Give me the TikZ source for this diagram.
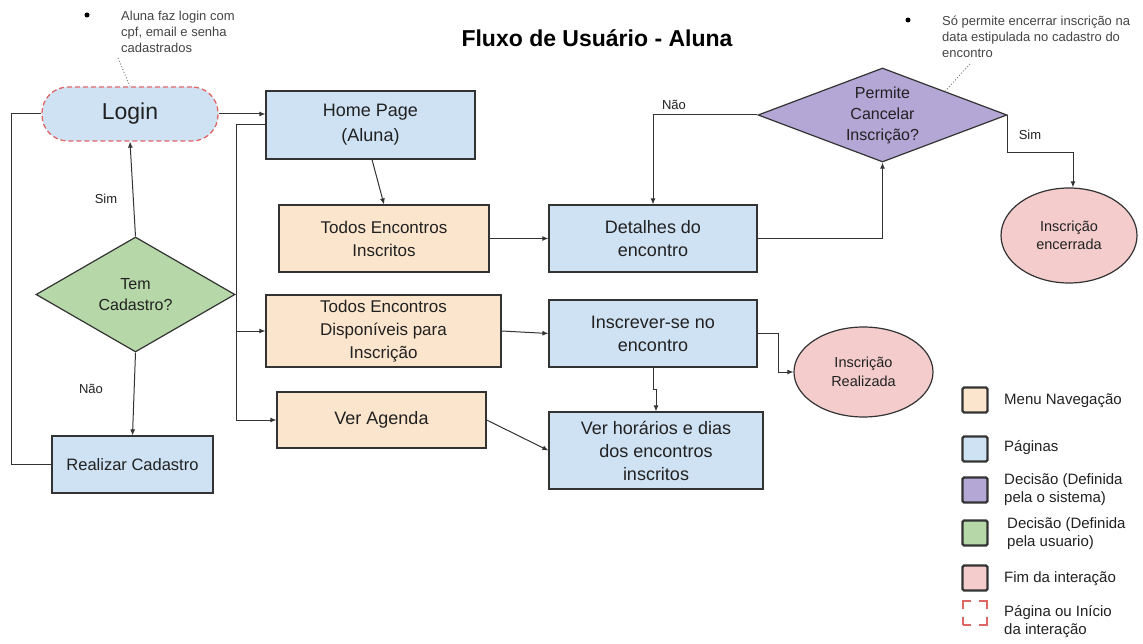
\documentclass[tikz,border=0pt]{standalone}
\usepackage{fontspec}
\setmainfont{Liberation Sans}
\usetikzlibrary{shapes.geometric,arrows.meta,calc}
\definecolor{menuc}{HTML}{FCE5CD}
\definecolor{pagec}{HTML}{CFE2F3}
\definecolor{purpc}{HTML}{B4A7D6}
\definecolor{greenc}{HTML}{B6D7A8}
\definecolor{endc}{HTML}{F4CCCC}
\definecolor{redc}{HTML}{E06666}
\definecolor{linec}{HTML}{333333}
\definecolor{txtc}{HTML}{212121}
\definecolor{notec}{HTML}{444444}
\begin{document}
\begin{tikzpicture}[x=1pt,y=-1pt,
  base/.style={draw=linec, line width=1.2pt, text=txtc, inner sep=0pt, align=center},
  menubox/.style={base, fill=menuc, rectangle, font=\fontsize{17}{23}\selectfont},
  pagebox/.style={base, fill=pagec, rectangle, font=\fontsize{17.5}{23}\selectfont},
  endnode/.style={base, fill=endc, ellipse, font=\fontsize{14.5}{18.5}\selectfont},
  decision/.style={base, diamond},
  dtext/.style={text=txtc, align=center, inner sep=0pt, font=\fontsize{16}{21}\selectfont},
  conn/.style={draw=linec, line width=1pt},
  arr/.style={conn, -{Latex[length=6pt,width=5pt]}},
  lbl/.style={font=\fontsize{13}{15}\selectfont, text=txtc, inner sep=0pt},
  notetext/.style={font=\fontsize{13}{16}\selectfont, text=notec, inner sep=0pt, align=left, anchor=north west},
  bulletdot/.style={circle, fill=black, inner sep=0pt, minimum size=5pt},
  dotline/.style={draw=gray, line width=1pt, dotted},
  legsq/.style={draw=linec, line width=2.2pt, rounded corners=1.5pt, minimum size=25pt, inner sep=0pt},
  legtext/.style={font=\fontsize{15}{18}\selectfont, text=txtc, inner sep=0pt, align=left, anchor=west}
]
\useasboundingbox (0,0) rectangle (1143,644);

% title
\node[font=\bfseries\fontsize{23}{27}\selectfont, text=black, inner sep=0pt] (title) at (597,38) {Fluxo de Usuário - Aluna};

% notes
\node[bulletdot] (b1) at (87,15) {};
\node[notetext] (note1) at (121,11) {Aluna faz login com\\cpf, email e senha\\cadastrados};
\node[bulletdot] (b2) at (908,20) {};
\node[notetext] (note2) at (942,16) {Só permite encerrar inscrição na\\data estipulada no cadastro do\\encontro};

% nodes
\node[base, fill=pagec, draw=redc, dash pattern=on 5pt off 3pt, line width=1.3pt, rounded corners=26pt,
      minimum width=176pt, minimum height=54pt, font=\fontsize{23}{27}\selectfont] (login) at (130,114) {Login};
\node[pagebox, font=\fontsize{18}{25}\selectfont, minimum width=209pt, minimum height=68pt] (home) at (370.5,125) {Home Page\\(Aluna)};
\node[menubox, minimum width=210pt, minimum height=67pt] (ti) at (384,238.5) {Todos Encontros\\Inscritos};
\node[menubox, minimum width=235pt, minimum height=72pt] (td) at (383.5,331) {Todos Encontros\\Disponíveis para\\Inscrição};
\node[menubox, font=\fontsize{18}{23}\selectfont, minimum width=209pt, minimum height=56pt] (va) at (381.5,420) {Ver Agenda};
\node[pagebox, font=\fontsize{18}{23}\selectfont, minimum width=208pt, minimum height=67pt] (det) at (653,238.5) {Detalhes do\\encontro};
\node[pagebox, font=\fontsize{18}{23}\selectfont, minimum width=208pt, minimum height=67pt] (insc) at (653,333.5) {Inscrever-se no\\encontro};
\node[pagebox, font=\fontsize{18}{23}\selectfont, minimum width=214pt, minimum height=77pt] (vh) at (656,450.5) {Ver horários e dias\\dos encontros\\inscritos};
\node[pagebox, font=\fontsize{16.5}{20}\selectfont, minimum width=161pt, minimum height=57pt] (rc) at (132.5,464.5) {Realizar Cadastro};

\node[decision, fill=greenc, minimum width=199pt, minimum height=115pt, aspect=1.73] (tem) at (135.5,294.5) {};
\node[dtext] (temt) at (tem.center) {Tem\\Cadastro?};
\node[decision, fill=purpc, minimum width=249pt, minimum height=94pt, aspect=2.65] (perm) at (882.5,115) {};
\node[dtext] (permt) at (perm.center) {Permite\\Cancelar\\Inscrição?};

\node[endnode, minimum width=136pt, minimum height=95pt] (enc) at (1069,235.5) {Inscrição\\encerrada};
\node[endnode, minimum width=139pt, minimum height=90pt] (real) at (863.5,372) {Inscrição\\Realizada};

% connectors
\coordinate (lx) at (11,0);
\coordinate (tx) at (236.5,0);
\draw[arr] (login.east) -- (login.east -| home.west);
\draw[conn] (login.west) -| (lx |- rc.west) -- (rc.west);
\draw[arr] (tem.north) -- (login.south);
\draw[arr] (tem.south) -- (rc.north);
\draw[arr] (home.west) -| (tx |- va.west) -- (va.west);
\draw[arr] (tx |- td.west) -- (td.west);
\draw[arr] ($(home.south)+(1.5,0)$) -- (ti.north);
\draw[arr] (ti.east) -- (det.west);
\draw[arr] (td.east) -- (insc.west);
\draw[arr] (va.east) -- (vh.west);
\draw[arr] (insc.south) -- ++(0,22) -| (vh.north);
\draw[arr] (insc.east) -- ++(21,0) |- (real.west);
\draw[arr] (det.east) -| (perm.south);
\draw[arr] (perm.west) -| (det.north);
\draw[arr] (perm.east) -- ++(0,38) -| ($(enc.north)+(4,0)$);

% labels
\node[lbl] (sim1) at (106,199) {Sim};
\node[lbl] (nao1) at (91,389) {Não};
\node[lbl] (nao2) at (674,105) {Não};
\node[lbl] (sim2) at (1030,135) {Sim};

% note pointers
\coordinate (n1) at (118,58);
\draw[dotline] (n1) -- (login.north);
\coordinate (n2) at (970,64);
\draw[dotline] (n2) -- (perm.north east);

% legend
\node[legsq, fill=menuc] (l1) at (975,400) {};
\node[legsq, fill=pagec] (l2) at (975,449) {};
\node[legsq, fill=purpc] (l3) at (975,490) {};
\node[legsq, fill=greenc] (l4) at (975,533) {};
\node[legsq, fill=endc] (l5) at (975,578) {};
\node[draw=redc, line width=2pt, minimum size=24pt, inner sep=0pt, dash pattern=on 16pt off 8pt, dash phase=8pt] (l6) at (975,612.5) {};
\node[legtext] (t1) at (1004,401) {Menu Navegação};
\node[legtext] (t2) at (1004,448) {Páginas};
\node[legtext] (t3) at (1004,490) {Decisão (Definida\\pela o sistema)};
\node[legtext] (t4) at (1007,534) {Decisão (Definida\\pela usuario)};
\node[legtext] (t5) at (1004,579) {Fim da interação};
\node[legtext] (t6) at (1004,622) {Página ou Início\\da interação};
\end{tikzpicture}
\end{document}
